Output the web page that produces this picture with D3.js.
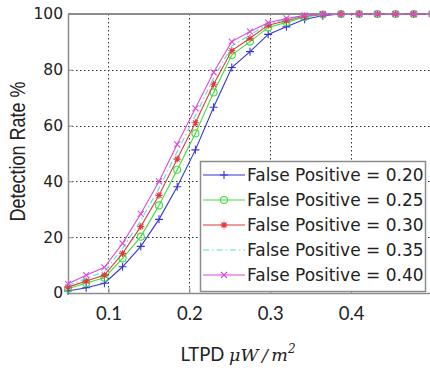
<!DOCTYPE html>
<html>
<head>
<meta charset="utf-8">
<script src="https://cdn.jsdelivr.net/npm/d3@7"></script>
<style>
  body { margin: 0; background: #fff; }
  svg { display: block; }
</style>
</head>
<body>
<div id="chart"></div>
<script>
// Frame and plot area
const FRAME_WIDTH = 430;
const FRAME_HEIGHT = 371;
const PLOT = {left: 68, right: 432, top: 14, bottom: 293};

// Data
const LTPD = [0.05, 0.0725, 0.095, 0.1175, 0.14, 0.1625, 0.185, 0.2075, 0.23, 0.2525,
              0.275, 0.2975, 0.32, 0.3425, 0.365, 0.3875, 0.41, 0.4325, 0.455, 0.4775, 0.5];
const FP_020 = [0.7, 1.9, 3.5, 9.4, 16.7, 26.4, 38.1, 51.3, 66.6, 80.8, 86.5, 92.7, 95.4, 98.1, 99.4, 100, 100, 100, 100, 100, 100];
const FP_025 = [1.5, 3.6, 5.5, 12.4, 20.2, 31.4, 44.2, 57.2, 71.9, 85.3, 90.1, 95.2, 97.0, 98.9, 99.8, 100, 100, 100, 100, 100, 100];
const FP_030 = [2.1, 4.3, 6.4, 14.2, 23.8, 35.0, 48.0, 61.0, 74.8, 86.9, 91.3, 96.0, 97.6, 99.3, 99.9, 100, 100, 100, 100, 100, 100];
const FP_035 = [2.7, 5.2, 7.7, 16.0, 26.0, 37.5, 50.6, 63.6, 77.0, 88.5, 92.5, 96.5, 98.0, 99.4, 100, 100, 100, 100, 100, 100, 100];
const FP_040 = [3.3, 6.4, 9.2, 17.8, 28.4, 40.0, 53.3, 66.2, 79.1, 90.1, 93.7, 96.9, 98.4, 99.5, 100, 100, 100, 100, 100, 100, 100];
const SERIES_NAMES = ["False Positive = 0.20", "False Positive = 0.25", "False Positive = 0.30",
                      "False Positive = 0.35", "False Positive = 0.40"];
const X_TICKS = [0.1, 0.2, 0.3, 0.4];
const Y_TICKS = [0, 20, 40, 60, 80, 100];

// styles per series
const COLORS = ["#3535d5", "#3ddf3d", "#e0393f", "#4fdede", "#dc4bdc"];
const MARKERS = ["plus", "circle", "star", "none", "cross"];
const DASHES = [null, null, null, "6,3,1.5,3", null];

const series = [FP_020, FP_025, FP_030, FP_035, FP_040].map((vals, i) => ({
  name: SERIES_NAMES[i],
  color: COLORS[i],
  marker: MARKERS[i],
  dash: DASHES[i],
  points: vals.map((v, j) => ({x: LTPD[j], y: v}))
}));

const svg = d3.select("#chart")
  .append("svg")
    .attr("width", FRAME_WIDTH)
    .attr("height", FRAME_HEIGHT);

const x = d3.scaleLinear().domain([0.05, 0.5]).range([PLOT.left, PLOT.right]);
const y = d3.scaleLinear().domain([0, 100]).range([PLOT.bottom, PLOT.top]);

// grid lines (dotted)
const grid = svg.append("g").attr("stroke", "#333").attr("stroke-width", 1)
  .attr("stroke-dasharray", "1.5,2.5");
grid.selectAll("line.vx")
  .data(X_TICKS)
  .enter().append("line")
    .attr("x1", d => Math.round(x(d)) + 0.5).attr("x2", d => Math.round(x(d)) + 0.5)
    .attr("y1", PLOT.top).attr("y2", PLOT.bottom);
grid.selectAll("line.hy")
  .data(Y_TICKS.filter(d => d > 0 && d < 100))
  .enter().append("line")
    .attr("x1", PLOT.left).attr("x2", PLOT.right)
    .attr("y1", d => Math.round(y(d)) + 0.5).attr("y2", d => Math.round(y(d)) + 0.5);

// axes
const xAxis = svg.append("g")
  .attr("transform", "translate(0," + PLOT.bottom + ")")
  .call(d3.axisBottom(x).tickValues(X_TICKS).tickSizeInner(-5).tickSizeOuter(0).tickPadding(14)
        .tickFormat(d3.format(".1f")));
xAxis.selectAll("text").attr("font-family", "Lato, sans-serif").attr("font-size", 18.5).attr("fill", "#222");

const yAxis = svg.append("g")
  .attr("transform", "translate(" + PLOT.left + ",0)")
  .call(d3.axisLeft(y).tickValues(Y_TICKS).tickSizeInner(-5).tickSizeOuter(0).tickPadding(5));
yAxis.selectAll("text").attr("font-family", "DejaVu Sans, sans-serif").attr("font-size", 15.5).attr("fill", "#222");

svg.selectAll(".domain, .tick line").attr("stroke", "#8c8c8c");
svg.selectAll(".domain").attr("stroke-width", 1.5);

// top border
svg.append("line")
  .attr("x1", PLOT.left).attr("x2", PLOT.right)
  .attr("y1", PLOT.top).attr("y2", PLOT.top)
  .attr("stroke", "#8c8c8c").attr("stroke-width", 2);

// marker shapes
function markerPath(type) {
  const p = d3.path();
  if (type === "plus") {
    p.moveTo(-4, 0); p.lineTo(4, 0); p.moveTo(0, -4); p.lineTo(0, 4);
  } else if (type === "cross") {
    p.moveTo(-3, -3); p.lineTo(3, 3); p.moveTo(-3, 3); p.lineTo(3, -3);
  } else if (type === "star") {
    p.moveTo(-3.5, 0); p.lineTo(3.5, 0); p.moveTo(0, -3.5); p.lineTo(0, 3.5);
    p.moveTo(-2.5, -2.5); p.lineTo(2.5, 2.5); p.moveTo(-2.5, 2.5); p.lineTo(2.5, -2.5);
  } else if (type === "circle") {
    p.arc(0, 0, 3.5, 0, 2 * Math.PI);
  }
  return p.toString();
}

const line = d3.line().x(d => x(d.x)).y(d => y(d.y));

// lines and markers
const plotG = svg.append("g");
series.forEach(s => {
  plotG.append("path")
    .datum(s.points)
    .attr("d", line)
    .attr("fill", "none")
    .attr("stroke", s.color)
    .attr("stroke-width", 1.1)
    .attr("stroke-dasharray", s.dash);
  if (s.marker !== "none") {
    plotG.selectAll(null)
      .data(s.points)
      .enter().append("path")
        .attr("transform", d => "translate(" + x(d.x) + "," + y(d.y) + ")")
        .attr("d", markerPath(s.marker))
        .attr("fill", "none")
        .attr("stroke", s.color)
        .attr("stroke-width", 1.1);
  }
});

// legend
const legend = svg.append("g");
legend.append("rect")
  .attr("x", 200.5).attr("y", 161.5)
  .attr("width", 225).attr("height", 130)
  .attr("fill", "#fff")
  .attr("stroke", "#8c8c8c").attr("stroke-width", 1.5);

const rows = legend.selectAll("g.row")
  .data(series)
  .enter().append("g")
    .attr("transform", (d, i) => "translate(0," + (175 + i * 25) + ")");
rows.append("line")
  .attr("x1", 203).attr("x2", 245)
  .attr("stroke", d => d.color)
  .attr("stroke-width", 1.1)
  .attr("stroke-dasharray", d => d.dash);
rows.filter(d => d.marker !== "none").append("path")
  .attr("transform", "translate(224,0)")
  .attr("d", d => markerPath(d.marker))
  .attr("fill", "none")
  .attr("stroke", d => d.color)
  .attr("stroke-width", 1.1);
rows.append("text")
  .attr("x", 247)
  .attr("dy", "0.36em")
  .attr("font-family", "DejaVu Sans, sans-serif")
  .attr("font-size", 17)
  .attr("fill", "#222")
  .text(d => d.name);

// axis labels (y label is a bit stretched, like the source image)
svg.append("text")
  .attr("transform", "translate(25,151.5) rotate(-90) scale(1,1.22)")
  .attr("text-anchor", "middle")
  .attr("font-family", "Liberation Sans, Arial, sans-serif")
  .attr("font-size", 18)
  .attr("fill", "#222")
  .text("Detection Rate %");

const xLabel = svg.append("text")
  .attr("x", 238).attr("y", 361)
  .attr("text-anchor", "middle")
  .attr("fill", "#222");
xLabel.append("tspan")
  .attr("font-family", "Lato, sans-serif")
  .attr("font-size", 18.5)
  .text("LTPD ");
xLabel.append("tspan")
  .attr("font-family", "DejaVu Serif, serif")
  .attr("font-style", "italic")
  .attr("font-size", 17.5)
  .text("\u03BCW\u2009/\u2009m");
xLabel.append("tspan")
  .attr("font-family", "DejaVu Serif, serif")
  .attr("font-style", "italic")
  .attr("font-size", 12)
  .attr("dy", -8)
  .text("2");
</script>
</body>
</html>
